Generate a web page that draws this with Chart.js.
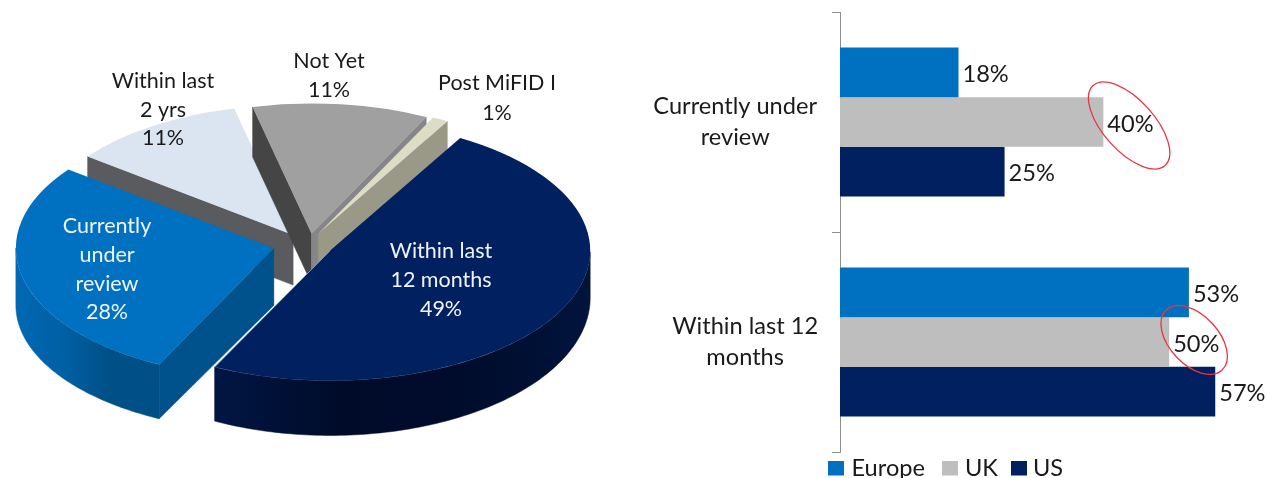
<!DOCTYPE html>
<html>
<head>
<meta charset="utf-8">
<script src="https://cdn.jsdelivr.net/npm/chart.js@4"></script>
<style>
html,body{margin:0;padding:0;background:#fff;overflow:hidden;width:1267px;height:478px}
#wrap{position:relative;width:1267px;height:478px}
canvas{position:absolute;top:0;filter:blur(.45px)}
#pie{left:0}
#bars{left:640px}
</style>
</head>
<body>
<div id="wrap">
<canvas id="pie" width="640" height="478" style="width:640px;height:478px"></canvas>
<canvas id="bars" width="627" height="478" style="width:627px;height:478px"></canvas>
</div>
<script>
// ---- pie data
const pieCategories = ['Within last 12 months','Currently under review','Within last 2 yrs','Not Yet','Post MiFID I'];
const pieValues = [49, 28, 11, 11, 1];
const pieLabelLines = [['Within last','12 months','49%'],['Currently','under','review','28%'],['Within last','2 yrs','11%'],['Not Yet','11%'],['Post MiFID I','1%']];
const pieTopColors = ['#002060','#0070c0','#dbe5f1','#a0a0a0','#dddcc6'];
// ---- bar data
const barCategories = [['Currently under','review'],['Within last 12','months']];
const europeValues = [18, 53];
const ukValues = [40, 50];
const usValues = [25, 57];

const FONT = 'Lato, Carlito, sans-serif';
const FONT_SIZE = 21.5;
const BAR_FONT_SIZE = 23.6;

// 3D look of the pie (styling only; angles come from the Chart.js arc elements)
const pie3d = {
  cx: 306, cy: 243, ry: 130,
  rx: [260, 258, 258, 258, 258],
  explode: [32, 32, 20, 22, 24],
  nudge: [[-4, 0], [-1, 1.5], [-2, .5], [3, 1.5], [1, 1.5]],
  order: [2, 3, 4, 1, 0],
  depth: [[47, .06], [57, -.025], [50, 0], [50, 0], [50, 0]],
  startFace: ['#001030', '#00528c', '#595b5f', '#454545', '#9a9886'],
  endFace: ['#001030', '#00528c', '#595b5f', '#868688', '#9a9886'],
  rim: [['#001643','#000b2a','#000c2c','#00143c'], ['#0068b4','#0060a4','#004f86','#004f86'], ['#777','#777','#777','#777'], ['#777','#777','#777','#777'], ['#999','#999','#999','#999']],
  labelPos: [[441, 251, 28.8], [107, 226, 28.8], [163, 81, 28.6], [329, 61, 29], [497, 83, 30]],
  labelColor: ['#f0f4fa', '#f0f4fa', '#1a1a1a', '#1a1a1a', '#1a1a1a']
};

const pie3dPlugin = {
  id: 'pie3d',
  beforeDatasetDraw(chart, args) {
    const ctx = chart.ctx, arcs = args.meta.data, c = pie3d;
    c.order.forEach(i => {
      const arc = arcs[i];
      const a0 = arc.startAngle, a1 = arc.endAngle, mid = (a0 + a1) / 2;
      const rx = c.rx[i], sq = c.ry / 258;
      const ox = c.cx + Math.cos(mid) * c.explode[i] + c.nudge[i][0];
      const oy = c.cy + Math.sin(mid) * c.explode[i] * sq + c.nudge[i][1];
      const at = a => [ox + rx * Math.cos(a), oy + c.ry * Math.sin(a)];
      const [base, k] = c.depth[i];
      const dn = p => [p[0], p[1] + base + k * (p[1] - 250)];
      const poly = (pts, fill) => {
        ctx.beginPath();
        pts.forEach((p, n) => n ? ctx.lineTo(p[0], p[1]) : ctx.moveTo(p[0], p[1]));
        ctx.closePath();
        ctx.fillStyle = fill; ctx.strokeStyle = fill; ctx.lineWidth = .5;
        ctx.fill(); ctx.stroke();
      };
      const apex = [ox, oy];
      if (Math.sin(a0 - Math.PI / 2) > 0) {
        const e = at(a0);
        poly([apex, e, dn(e), dn(apex)], c.startFace[i]);
      }
      if (Math.sin(a1 + Math.PI / 2) > 0) {
        const e = at(a1);
        poly([apex, e, dn(e), dn(apex)], c.endFace[i]);
      }
      // rounded outer wall: only the part that faces the viewer
      const top = [];
      for (let n = 0; n <= 160; n++) {
        const a = a0 + (a1 - a0) * n / 160;
        if (Math.sin(a) > -0.001) top.push(at(a));
      }
      if (top.length > 1) {
        const xs = top.map(p => p[0]);
        const g = ctx.createLinearGradient(Math.min(...xs), 0, Math.max(...xs), 0);
        c.rim[i].forEach((col, n, all) => g.addColorStop(n / (all.length - 1), col));
        poly(top.concat(top.map(dn).reverse()), g);
      }
      // top face: the library's own arc element, squashed and shifted
      ctx.save();
      ctx.translate(ox, oy);
      ctx.scale(rx / arc.outerRadius, c.ry / arc.outerRadius);
      ctx.translate(-arc.x, -arc.y);
      arc.draw(ctx);
      ctx.restore();
      if (i === 0) {
        const e = at(a1);
        ctx.beginPath(); ctx.moveTo(e[0], e[1]); ctx.lineTo(apex[0], apex[1]);
        ctx.strokeStyle = 'rgba(150,185,215,.75)'; ctx.lineWidth = 1; ctx.stroke();
      }
    });
    return false;
  },
  afterDraw(chart) {
    const ctx = chart.ctx, c = pie3d;
    ctx.save();
    ctx.font = FONT_SIZE + 'px ' + FONT;
    ctx.textAlign = 'center'; ctx.textBaseline = 'middle';
    pieLabelLines.forEach((lines, i) => {
      const [x, y, lh] = c.labelPos[i];
      ctx.fillStyle = c.labelColor[i];
      lines.forEach((t, n) => ctx.fillText(t, x, y + n * lh));
    });
    ctx.restore();
  }
};

new Chart(document.getElementById('pie'), {
  type: 'pie',
  data: {
    labels: pieCategories,
    datasets: [{ data: pieValues, backgroundColor: pieTopColors, borderWidth: 0, hoverOffset: 0 }]
  },
  options: {
    responsive: false, animation: false, rotation: 30,
    layout: { padding: 0 },
    plugins: { legend: { display: false }, tooltip: { enabled: false } },
    events: []
  },
  plugins: [pie3dPlugin]
});

const ovals = [
  { ds: 1, idx: 0, dx: 25.8, dy: 3.5, a: 53.7, b: 25.5, rot: 48 },
  { ds: 1, idx: 1, dx: 25, dy: -2, a: 41, b: 24.5, rot: 47 }
];

const barExtras = {
  id: 'barExtras',
  beforeDraw(chart) {
    // second tick label sits a little to the right in the reference
    const items = chart.scales.y.getLabelItems(chart.chartArea);
    if (items[1] && !items[1].__moved) {
      items[1].options.translation[0] += 10;
      items[1].__moved = true;
    }
  },
  afterDatasetsDraw(chart) {
    const ctx = chart.ctx;
    ctx.save();
    ctx.font = BAR_FONT_SIZE + 'px ' + FONT;
    ctx.fillStyle = '#1a1a1a';
    ctx.textAlign = 'left'; ctx.textBaseline = 'middle';
    chart.data.datasets.forEach((ds, d) => {
      chart.getDatasetMeta(d).data.forEach((bar, i) => {
        ctx.fillText(ds.data[i] + '%', bar.x + 4, bar.y + 2);
      });
    });
    ctx.strokeStyle = '#ea3440'; ctx.lineWidth = 1.3;
    ovals.forEach(o => {
      const bar = chart.getDatasetMeta(o.ds).data[o.idx];
      ctx.beginPath();
      ctx.ellipse(bar.x + o.dx, bar.y + o.dy, o.a, o.b, o.rot * Math.PI / 180, 0, Math.PI * 2);
      ctx.stroke();
    });
    // legend
    const slots = [[188, 211.5], [302, 325], [371, 393]];
    chart.data.datasets.forEach((ds, d) => {
      ctx.fillStyle = ds.backgroundColor;
      ctx.fillRect(slots[d][0], 461, 16, 14.5);
      ctx.fillStyle = '#1a1a1a';
      ctx.fillText(ds.label, slots[d][1], 468);
    });
    ctx.restore();
  }
};

new Chart(document.getElementById('bars'), {
  type: 'bar',
  data: {
    labels: barCategories,
    datasets: [
      { label: 'Europe', data: europeValues, backgroundColor: '#0070c0' },
      { label: 'UK', data: ukValues, backgroundColor: '#bebebe' },
      { label: 'US', data: usValues, backgroundColor: '#002060' }
    ]
  },
  options: {
    indexAxis: 'y', responsive: false, animation: false, events: [],
    layout: { padding: { top: 12, right: 32, bottom: 26, left: 0 } },
    datasets: { bar: { categoryPercentage: .677, barPercentage: 1, borderWidth: 0 } },
    plugins: { legend: { display: false }, tooltip: { enabled: false } },
    scales: {
      x: { display: false, min: 0, max: 60 },
      y: {
        afterFit(s) { s.width = 200; s.paddingTop = 0; s.paddingBottom = 0; },
        border: { display: true, color: '#8f8f8f', width: 1 },
        grid: { display: true, offset: true, drawOnChartArea: false, drawTicks: true, tickLength: 8, color: '#8f8f8f' },
        ticks: { crossAlign: 'center', padding: 15, color: '#1a1a1a', font: { family: FONT, size: BAR_FONT_SIZE, lineHeight: 1.32 } }
      }
    }
  },
  plugins: [barExtras]
});
</script>
</body>
</html>
